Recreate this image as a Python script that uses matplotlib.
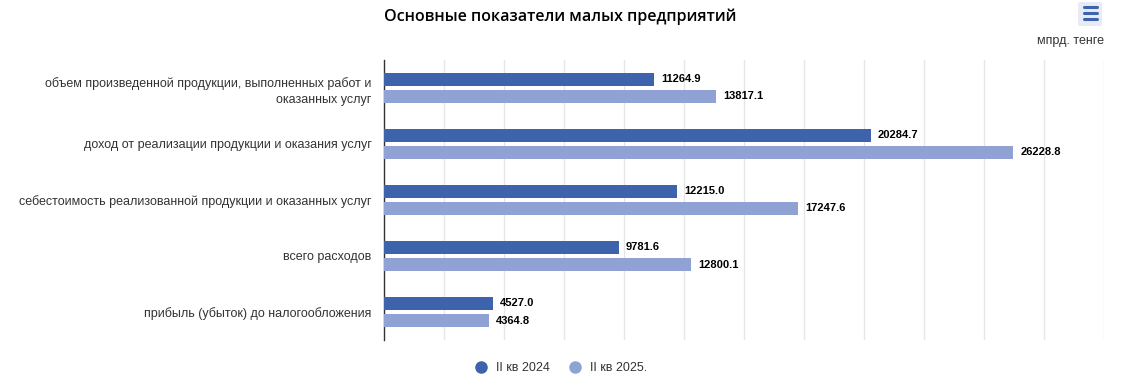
import numpy as np
import matplotlib.pyplot as plt
from matplotlib.patches import FancyBboxPatch
from matplotlib.lines import Line2D

plt.rcParams['font.family'] = ['Liberation Sans', 'DejaVu Sans']

categories = [
    "объем произведенной продукции, выполненных работ и\nоказанных услуг",
    "доход от реализации продукции и оказания услуг",
    "себестоимость реализованной продукции и оказанных услуг",
    "всего расходов",
    "прибыль (убыток) до налогообложения",
]
series_names = ["II кв 2024", "II кв 2025."]
values_2024 = [11264.9, 20284.7, 12215.0, 9781.6, 4527.0]
values_2025 = [13817.1, 26228.8, 17247.6, 12800.1, 4364.8]

DARK = "#3c63ab"
LIGHT = "#8fa2d3"

fig = plt.figure(figsize=(11.23, 3.81), dpi=100)
ax = fig.add_axes([0.342, 0.1076, 0.641, 0.735])

y = np.arange(len(categories))
h = 0.235
off = 0.152
ax.barh(y - off, values_2024, height=h, color=DARK, zorder=3)
ax.barh(y + off, values_2025, height=h, color=LIGHT, zorder=3)

for yi, v in zip(y - off, values_2024):
    ax.text(v + 300, yi, "{:.1f}".format(v), va='center', ha='left',
            fontsize=8, fontweight='bold', color='black')
for yi, v in zip(y + off, values_2025):
    ax.text(v + 300, yi, "{:.1f}".format(v), va='center', ha='left',
            fontsize=8, fontweight='bold', color='black')

ax.set_xlim(0, 30000)
ax.set_ylim(len(categories) - 0.5, -0.5)
ax.set_xticks(np.arange(0, 30001, 2500))
ax.set_xticklabels([])
ax.tick_params(axis='x', length=0)
ax.grid(axis='x', color='#e6e6e6', linewidth=1, zorder=0)

ax.set_yticks(y)
ax.set_yticklabels(categories, fontsize=9, color='#333333')
ax.tick_params(axis='y', length=0, pad=9)
for lbl in ax.get_yticklabels():
    lbl.set_multialignment('right')
    lbl.set_linespacing(1.45)

for s in ['top', 'right', 'bottom']:
    ax.spines[s].set_visible(False)
ax.spines['left'].set_color('#333333')
ax.spines['left'].set_linewidth(1)

fig.text(0.499, 0.955, "Основные показатели малых предприятий", ha='center', va='center',
         fontsize=11.5, fontweight='semibold', family=['Open Sans', 'DejaVu Sans'], color='black')
fig.text(0.983, 0.893, "мпрд. тенге", ha='right', va='center', fontsize=9, color='#333333')

# menu icon
box = FancyBboxPatch((1078 / 1123, 1 - 26 / 381), 24 / 1123, 24 / 381,
                     boxstyle="round,pad=0,rounding_size=0.003",
                     transform=fig.transFigure, facecolor='#e6ebf5', edgecolor='none')
fig.patches.append(box)
for yy in [7, 13, 19]:
    fig.lines.append(Line2D([1084 / 1123, 1097 / 1123], [1 - yy / 381, 1 - yy / 381],
                            transform=fig.transFigure, color='#3c63ab', linewidth=2.2,
                            solid_capstyle='round'))

# legend
handles = [Line2D([], [], marker='o', linestyle='none', markersize=8, color=c)
           for c in (DARK, LIGHT)]
fig.legend(handles, series_names, loc='center', bbox_to_anchor=(0.497, 0.034),
           ncol=2, frameon=False, fontsize=9, handletextpad=0.2, columnspacing=1.0,
           labelcolor='#333333')

fig.savefig("out.png", dpi=100)
